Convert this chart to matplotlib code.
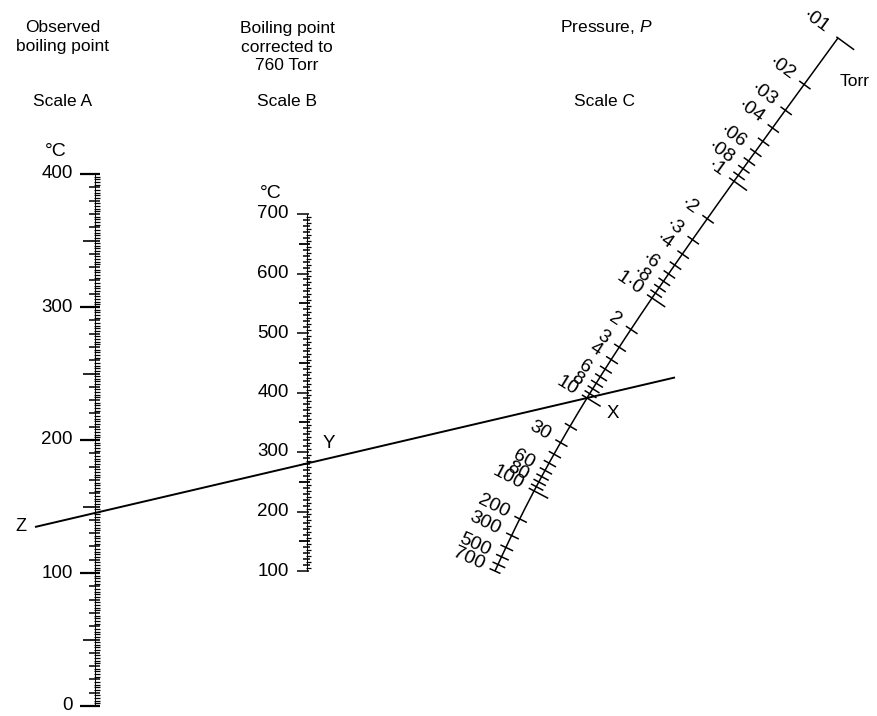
import numpy as np
import matplotlib.pyplot as plt

plt.rcParams['font.family'] = ['Liberation Sans', 'DejaVu Sans']
plt.rcParams['mathtext.fontset'] = 'custom'
plt.rcParams['mathtext.it'] = 'Liberation Sans:italic'

# scale A: observed boiling point (deg C)
observed_labels = [0, 100, 200, 300, 400]
# scale B: boiling point corrected to 760 Torr (deg C)
corrected_labels = [100, 200, 300, 400, 500, 600, 700]
# scale C: pressure (Torr)
pressure_ticks = [0.01, 0.02, 0.03, 0.04, 0.05, 0.06, 0.07, 0.08, 0.09,
                  0.1, 0.2, 0.3, 0.4, 0.5, 0.6, 0.7, 0.8, 0.9,
                  1, 2, 3, 4, 5, 6, 7, 8, 9,
                  10, 20, 30, 40, 50, 60, 70, 80, 90,
                  100, 200, 300, 400, 500, 600, 700]
pressure_long = [0.01, 0.1, 1, 10, 100]
pressure_label_values = [0.01, 0.02, 0.03, 0.04, 0.06, 0.08, 0.1, 0.2, 0.3, 0.4,
                         0.6, 0.8, 1, 2, 3, 4, 6, 8, 10, 30, 60, 80, 100,
                         200, 300, 500, 700]
pressure_label_text = ['·01', '·02', '·03', '·04', '·06', '·08', '·1', '·2', '·3', '·4',
                       '·6', '·8', '1·0', '2', '3', '4', '6', '8', '10', '30', '60', '80', '100',
                       '200', '300', '500', '700']

# worked example: 10 Torr read against 280 deg C at 760 Torr
example_pressure = 10
example_corrected = 280

W, H = 877, 716
fig = plt.figure(figsize=(W / 100, H / 100), dpi=100)
ax = fig.add_axes([0, 0, 1, 1])
ax.set_xlim(0, W)
ax.set_ylim(H, 0)
ax.axis('off')

XA, XB = 100, 307


def y_a(t):
    return 706 - 1.33 * t


def y_b(t):
    return 571 - 0.595 * (t - 100)


def c_xy(p):
    u = np.log10(p)
    x = 652 - 72.67 * u + 8.504 * u ** 2 - 0.829 * u ** 3
    y = 298 + 106.78 * u - 8.388 * u ** 2 + 1.612 * u ** 3
    return x, y


def c_normal(p):
    # unit vector across scale C, pointing right/down
    u = np.log10(p)
    dx = -72.67 + 17.008 * u - 2.487 * u ** 2
    dy = 106.78 - 16.776 * u + 4.836 * u ** 2
    n = np.hypot(dx, dy)
    return dy / n, -dx / n


k = dict(color='black', solid_capstyle='butt')

# ---- scale A ----
ax.plot([XA - 5, XA - 5], [y_a(0), y_a(400)], lw=0.7, **k)
for t in range(0, 401, 2):
    if t % 100 == 0:
        x0, lw = XA - 20, 1.6
    elif t % 50 == 0:
        x0, lw = XA - 17, 1.2
    elif t % 10 == 0:
        x0, lw = XA - 11, 1.1
    else:
        x0, lw = XA - 6, 0.9
    ax.plot([x0, XA], [y_a(t), y_a(t)], lw=lw, **k)
for t in observed_labels:
    ax.text(XA - 27, y_a(t), str(t), ha='right', va='center', fontsize=13.5)
ax.text(45, y_a(400) - 23, '°C', ha='left', va='center', fontsize=14)

# ---- scale B ----
ax.plot([XB, XB], [y_b(100), y_b(700)], lw=0.7, **k)
for t in range(100, 701, 5):
    if t % 100 == 0:
        x0, x1, lw = XB - 10, XB + 2, 1.1
    elif t % 50 == 0:
        x0, x1, lw = XB - 8, XB + 3, 1.3
    elif t % 10 == 0:
        x0, x1, lw = XB - 4, XB + 3, 1.1
    else:
        x0, x1, lw = XB - 1, XB + 4, 0.9
    ax.plot([x0, x1], [y_b(t), y_b(t)], lw=lw, **k)
for t in corrected_labels:
    ax.text(XB - 18, y_b(t), str(t), ha='right', va='center', fontsize=13.5)
ax.text(260, y_b(700) - 21, '°C', ha='left', va='center', fontsize=14)

# ---- scale C ----
pc = np.logspace(np.log10(pressure_ticks[0]), np.log10(pressure_ticks[-1]), 200)
cx, cy = c_xy(pc)
ax.plot(cx, cy, lw=1.1, **k)
for p in pressure_ticks:
    x, y = c_xy(p)
    nx, ny = c_normal(p)
    if p == pressure_ticks[0]:
        a, b = -2, 20
    elif p == pressure_ticks[-1]:
        a, b = -6, 6
    elif p in pressure_long:
        a, b = -6, 16
    else:
        a, b = -6, 8
    ax.plot([x + a * nx, x + b * nx], [y + a * ny, y + b * ny], lw=1.1, **k)
for p, s in zip(pressure_label_values, pressure_label_text):
    x, y = c_xy(p)
    nx, ny = c_normal(p)
    ang = np.degrees(np.arctan2(-ny, nx))
    ax.text(x - 13 * nx, y - 13 * ny, s, ha='right', va='center', fontsize=14,
            rotation=ang, rotation_mode='anchor')
ax.text(840, 81, 'Torr', ha='left', va='center', fontsize=12.5)

# ---- index line through B and C ----
bx, by = XB - 2, y_b(example_corrected)
qx, qy = c_xy(example_pressure)
slope = (qy - by) / (qx - bx)
xs = np.array([35, 675])
ax.plot(xs, by + slope * (xs - bx), lw=1.4, **k)
ax.text(xs[0] - 8, by + slope * (xs[0] - bx), 'Z', ha='right', va='center', fontsize=13)
ax.text(bx + 18, by - 20, 'Y', ha='left', va='center', fontsize=13.5)
ax.text(qx + 20, qy + 15, 'X', ha='left', va='center', fontsize=13.5)

# ---- headings ----
hk = dict(ha='center', va='center', fontsize=12.5, linespacing=1.25)
ax.text(63, 37, 'Observed\nboiling point', **hk)
ax.text(287, 47, 'Boiling point\ncorrected to\n760 Torr', **hk)
ax.text(606, 27, 'Pressure, $P$', **hk)
ax.text(63, 102, 'Scale A', **hk)
ax.text(287, 102, 'Scale B', **hk)
ax.text(605, 102, 'Scale C', **hk)

fig.savefig('out.png', dpi=100)
